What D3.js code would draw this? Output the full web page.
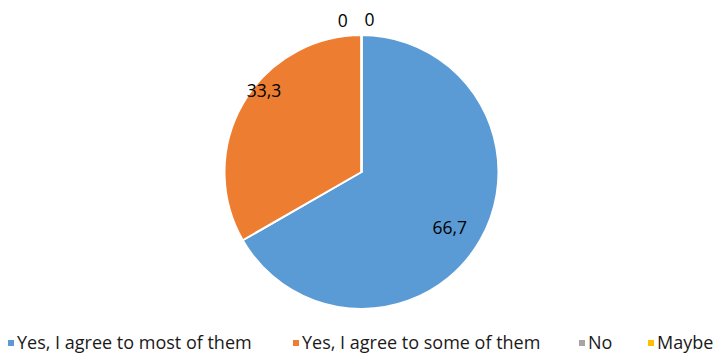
<!DOCTYPE html>
<html><head><meta charset="utf-8">
<script src="https://cdn.jsdelivr.net/npm/d3@7"></script>
<style>body{margin:0;background:#fff}svg{display:block}</style>
</head><body>
<svg id="c" width="720" height="355"></svg>
<script>
const categories = ["Yes, I agree to most of them", "Yes, I agree to some of them", "No", "Maybe"];
const values = [66.7, 33.3, 0, 0];
const valueLabels = ["66,7", "33,3", "0", "0"];
const colors = ["#5B9BD5", "#ED7D31", "#A5A5A5", "#FFC000"];
// label placement (radius factor, angle offset in degrees) — styling only
const labelRadius = [0.76, 0.93, 1.12, 1.12];
const labelAngleShift = [2, 10, -7, 3];
const legendX = [8, 293, 579, 648];

const svg = d3.select("#c");
const cx = 361.5, cy = 172, r = 137;
const g = svg.append("g").attr("transform", `translate(${cx},${cy})`);
const pie = d3.pie().sort(null).value(d => d)(values);
const arc = d3.arc().innerRadius(0).outerRadius(r);
g.selectAll("path").data(pie).join("path")
  .attr("d", arc).attr("fill", (d, i) => colors[i])
  .attr("stroke", "#fff").attr("stroke-width", 2).attr("stroke-linejoin", "round");

const font = "'Open Sans', sans-serif";
g.selectAll("text").data(pie).join("text")
  .each(function (d, i) {
    const a = (d.startAngle + d.endAngle) / 2 + labelAngleShift[i] * Math.PI / 180;
    const rr = r * labelRadius[i];
    d3.select(this).attr("x", rr * Math.sin(a)).attr("y", -rr * Math.cos(a));
  })
  .attr("text-anchor", "middle").attr("dominant-baseline", "central")
  .attr("font-family", font).attr("font-size", 17.5).attr("fill", "#000")
  .text((d, i) => valueLabels[i]);

const leg = svg.append("g");
categories.forEach((c, i) => {
  leg.append("rect").attr("x", legendX[i]).attr("y", 340).attr("width", 6).attr("height", 6).attr("fill", colors[i]);
  leg.append("text").attr("x", legendX[i] + 9).attr("y", 342).attr("dominant-baseline", "central")
    .attr("font-family", font).attr("font-size", 18).attr("fill", "#1a1a1a").text(c);
});
</script>
</body></html>
